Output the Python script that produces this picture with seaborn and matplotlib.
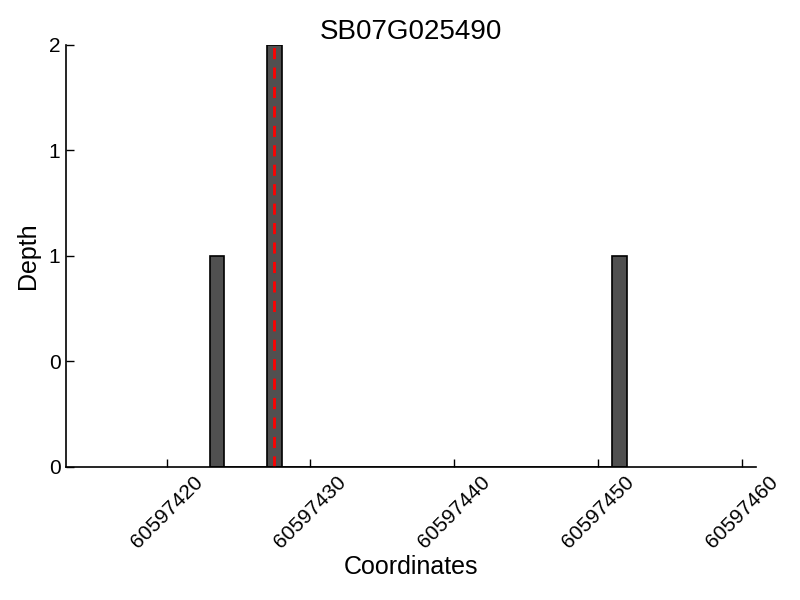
import numpy as np
import pandas as pd
import matplotlib
matplotlib.use("Agg")
import matplotlib.pyplot as plt
import seaborn as sns

# Data
positions = [60597423, 60597427, 60597451]
depths = [1, 2, 1]
marker_pos = 60597427.5
x_ticks = [60597420, 60597430, 60597440, 60597450, 60597460]
y_ticks = [0, 0.5, 1, 1.5, 2]
y_tick_labels = ["0", "0", "1", "1", "2"]
title = "SB07G025490"

sns.set_style("white")
plt.rcParams['font.family'] = ['Liberation Sans', 'DejaVu Sans']
plt.rcParams['text.color'] = 'black'
plt.rcParams['axes.labelcolor'] = 'black'
plt.rcParams['xtick.color'] = 'black'
plt.rcParams['ytick.color'] = 'black'

df = pd.DataFrame({"pos": positions, "depth": depths})

fig = plt.figure(figsize=(8, 6), dpi=100)
ax = fig.add_axes([0.0825, 0.222, 0.8625, 0.703])

sns.histplot(data=df, x="pos", weights="depth", binwidth=1,
             binrange=(min(positions), max(positions) + 1),
             color="#505050", alpha=1, edgecolor="black", linewidth=1.2,
             ax=ax, legend=False)
ax.axvline(marker_pos, color="red", linestyle=(0, (4, 3)), linewidth=2)

ax.set_xlim(60597413, 60597461)
ax.set_ylim(0, 2)
ax.set_xticks(x_ticks)
ax.set_xticklabels([str(t) for t in x_ticks], rotation=45, ha="center", fontsize=15)
ax.set_yticks(y_ticks)
ax.set_yticklabels(y_tick_labels, fontsize=15)
ax.tick_params(direction="in", length=6, width=1, colors="black", left=True, bottom=True, pad=4)
for s in ["top", "right"]:
    ax.spines[s].set_visible(False)
for s in ["left", "bottom"]:
    ax.spines[s].set_color("black")
    ax.spines[s].set_linewidth(1.2)

ax.set_title(title, fontsize=20, pad=4, color="black")
ax.set_xlabel("Coordinates", fontsize=18, labelpad=2)
ax.set_ylabel("Depth", fontsize=18, labelpad=6)

fig.savefig("out.png", dpi=100)
